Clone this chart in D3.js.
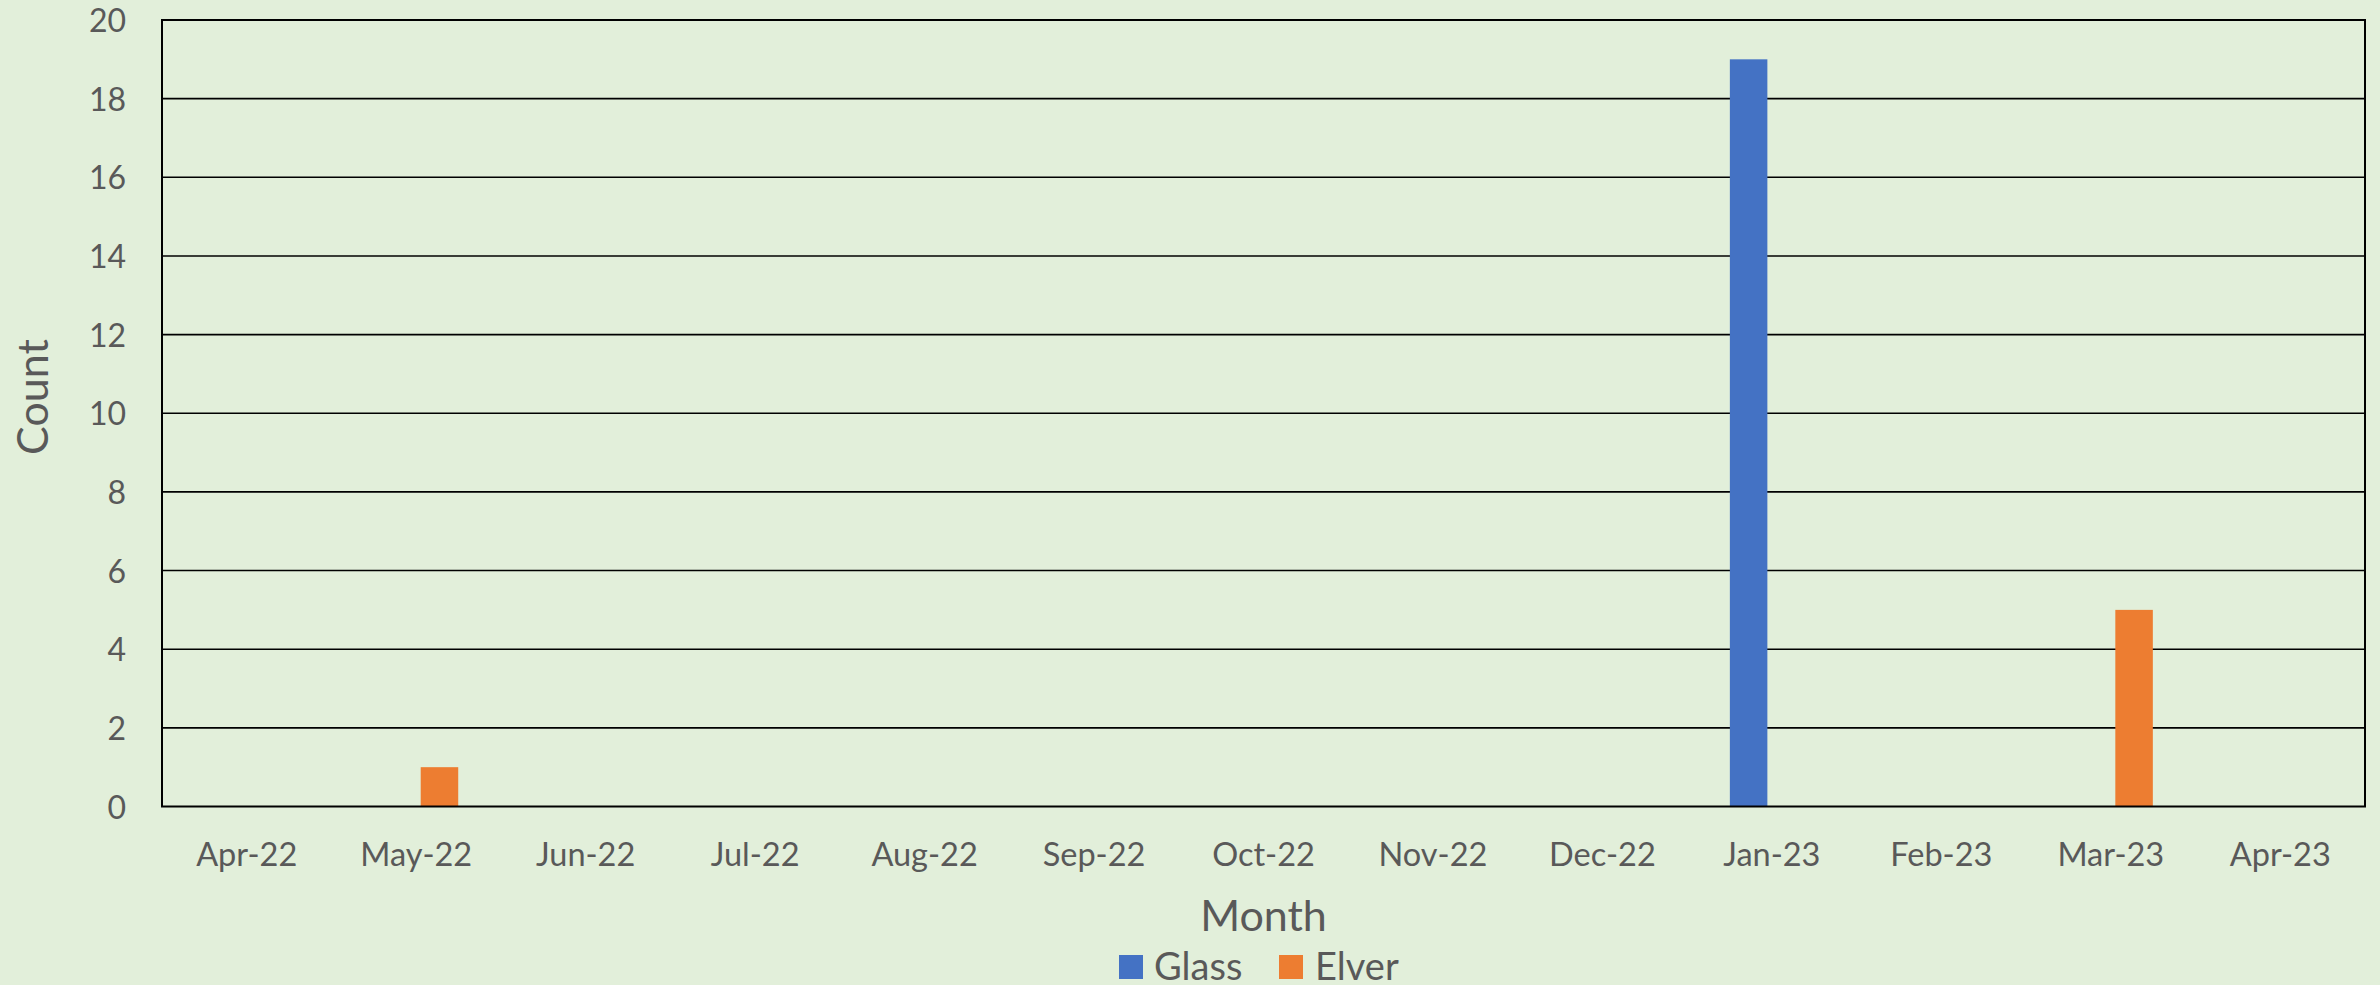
<!DOCTYPE html>
<html>
<head>
<meta charset="utf-8">
<script src="https://cdn.jsdelivr.net/npm/d3@7"></script>
<style>
  html, body { margin: 0; padding: 0; background: #E2EFDA; }
  svg { display: block; }
  text { font-family: Lato, "Open Sans", sans-serif; fill: #595959; }
</style>
</head>
<body>
<svg id="chart" width="2380" height="985"></svg>
<script>
const months = ["Apr-22","May-22","Jun-22","Jul-22","Aug-22","Sep-22","Oct-22","Nov-22","Dec-22","Jan-23","Feb-23","Mar-23","Apr-23"];
const seriesNames = ["Glass", "Elver"];
const glassValues = [0,0,0,0,0,0,0,0,0,19,0,0,0];
const elverValues = [0,1,0,0,0,0,0,0,0,0,0,5,0];
const yTicks = [0,2,4,6,8,10,12,14,16,18,20];
const colors = ["#4472C4", "#ED7D31"];

(function () {
const svg = d3.select("#chart");
const W = 2380, H = 985;
svg.append("rect").attr("width", W).attr("height", H).attr("fill", "#E2EFDA");

const pLeft = 162, pRight = 2365, pTop = 20, pBottom = 806.5;

const x0 = d3.scaleBand().domain(months).range([pLeft, pRight]).padding(0);
const bw = x0.bandwidth();
const x1 = d3.scaleBand().domain(seriesNames).range([bw * 0.252, bw * 0.748]).paddingInner(0.194).paddingOuter(0);
const y = d3.scaleLinear().domain([0, 20]).range([pBottom, pTop]);

// gridlines
svg.append("g").selectAll("line").data(yTicks.filter(t => t > 0 && t < 20)).join("line")
  .attr("x1", pLeft).attr("x2", pRight)
  .attr("y1", d => y(d)).attr("y2", d => y(d))
  .attr("stroke", "#000").attr("stroke-width", 1.6);

// bars
const data = months.map((m, i) => ({ month: m, values: [glassValues[i], elverValues[i]] }));
const groups = svg.append("g").selectAll("g").data(data).join("g")
  .attr("transform", d => `translate(${x0(d.month)},0)`);
groups.selectAll("rect").data(d => d.values.map((v, j) => ({ name: seriesNames[j], v, j })).filter(e => e.v > 0))
  .join("rect")
  .attr("x", e => x1(e.name))
  .attr("width", x1.bandwidth())
  .attr("y", e => y(e.v))
  .attr("height", e => y(0) - y(e.v))
  .attr("fill", e => colors[e.j]);

// plot border
svg.append("rect").attr("x", pLeft).attr("y", pTop).attr("width", pRight - pLeft).attr("height", pBottom - pTop)
  .attr("fill", "none").attr("stroke", "#000").attr("stroke-width", 2);

// y axis labels
const yAxis = d3.axisLeft(y).tickValues(yTicks).tickSize(0).tickPadding(0).tickFormat(d3.format("d"));
const yg = svg.append("g").attr("transform", `translate(126,0)`).call(yAxis);
yg.select(".domain").remove();
yg.selectAll("text").attr("font-size", 32).attr("fill", "#595959").attr("font-family", "Lato, sans-serif").attr("dy", "0.36em");

// x axis labels
const xAxis = d3.axisBottom(x0).tickSize(0).tickPadding(0);
const xg = svg.append("g").attr("transform", `translate(0,866)`).call(xAxis);
xg.select(".domain").remove();
xg.selectAll("text").attr("font-size", 32.5).attr("fill", "#595959").attr("font-family", "Lato, sans-serif").attr("dy", 0).attr("y", 0);

// axis titles
svg.append("text").attr("x", (pLeft + pRight) / 2).attr("y", 931).attr("text-anchor", "middle")
  .attr("font-size", 43).text("Month");
svg.append("text").attr("transform", `translate(48,397) rotate(-90)`).attr("text-anchor", "middle")
  .attr("font-size", 43).text("Count");

// legend
const legend = [{ name: "Glass", sx: 1119, tx: 1154 }, { name: "Elver", sx: 1279, tx: 1315 }];
const lg = svg.append("g");
lg.selectAll("rect").data(legend).join("rect")
  .attr("x", d => d.sx).attr("y", 955).attr("width", 24).attr("height", 24)
  .attr("fill", (d, i) => colors[i]);
lg.selectAll("text").data(legend).join("text")
  .attr("x", d => d.tx).attr("y", 980).attr("font-size", 38).text(d => d.name);
})();
</script>
</body>
</html>
